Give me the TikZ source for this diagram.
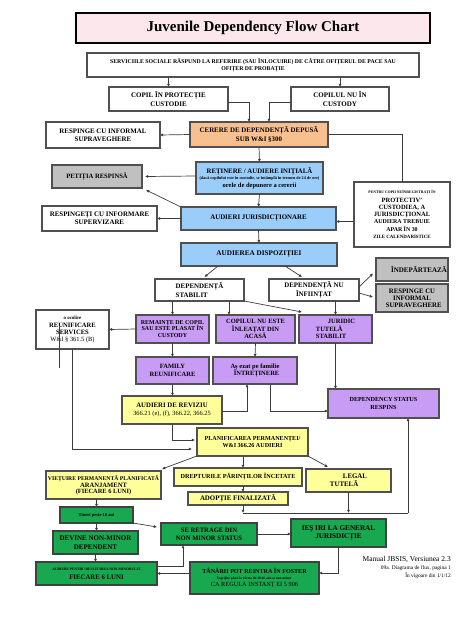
\documentclass[tikz,border=0pt]{standalone}
\usepackage{fontspec}
\setmainfont{Liberation Serif}
\usetikzlibrary{arrows.meta,calc}
\definecolor{cpink}{RGB}{252,232,236}
\definecolor{corange}{RGB}{249,192,143}
\definecolor{cblue}{RGB}{155,205,250}
\definecolor{cgray}{RGB}{192,192,192}
\definecolor{cpurple}{RGB}{200,155,245}
\definecolor{cyellow}{RGB}{255,255,153}
\definecolor{cgreen}{RGB}{24,168,80}
\definecolor{cborder}{RGB}{80,80,80}
\definecolor{cline}{RGB}{60,60,60}
\newcommand\fs[1]{\fontsize{#1}{\fpeval{#1*1.2}}\selectfont}
\newcommand\mkbox[7]{\node[#6,anchor=north west,minimum width=#4pt,minimum height=#5pt] (#1) at (#2,#3) {#7};}
\tikzset{
  x=1pt,y=-1pt,
  bx/.style={draw=cborder,line width=1.8pt,inner sep=1pt,align=center,font=\bfseries,outer sep=0pt},
  fz/.style={font=\bfseries\fs{#1}},
  wbox/.style={bx,fill=white},
  obox/.style={bx,fill=corange},
  bbox/.style={bx,fill=cblue},
  gbox/.style={bx,fill=cgray},
  pbox/.style={bx,fill=cpurple},
  ybox/.style={bx,fill=cyellow},
  grbox/.style={bx,fill=cgreen,draw=black!75},
  arr/.style={draw=cline,line width=0.7pt,-{Latex[length=3.2pt,width=3.2pt]}},
  ln/.style={draw=cline,line width=0.7pt},
}
\begin{document}
\begin{tikzpicture}
\useasboundingbox (0,0) rectangle (474,632);
\fill[white] (0,0) rectangle (474,632);
% title
\mkbox{title}{76}{13}{354}{30}{bx,fill=cpink,draw=black,line width=2.4pt,fz=15}{Juvenile Dependency Flow Chart}
\mkbox{svc}{87}{53}{332}{24}{wbox,fz=5.8}{SERVICIILE SOCIALE RĂSPUND LA REFERIRE (SAU ÎNLOCUIRE) DE CĂTRE OFIȚERUL DE PACE SAU\\OFIȚER DE PROBAȚIE}
\mkbox{cp}{109}{87}{119}{24}{wbox,fz=7}{COPIL ÎN PROTECȚIE\\CUSTODIE}
\mkbox{cn}{291}{87}{98}{24}{wbox,fz=7}{COPILUL NU ÎN\\CUSTODY}
\mkbox{cer}{190}{122}{138}{25}{obox,fz=6.9}{CERERE DE DEPENDENȚĂ DEPUSĂ\\SUB W\&I §300}
\mkbox{rs1}{46}{122}{114}{26}{wbox,fz=6.9}{RESPINGE CU INFORMAL\\SUPRAVEGHERE}
\mkbox{ret}{196}{162}{127}{32}{bbox,fz=6.8}{REȚINERE / AUDIERE INIȚIALĂ\\[-1.5pt]\fs{4.2}(dacă copilului este în custodie, se întâmplă în termen de 24 de ore)\\[-0.5pt]\fs{6.5}orele de depunere a cererii}
\mkbox{pet}{52}{165}{90}{23}{gbox,fz=6.6}{PETIȚIA RESPINSĂ}
\mkbox{aj}{181}{207}{155}{23}{bbox,fz=6.9}{AUDIERI JURISDICȚIONARE}
\mkbox{rsp}{42}{206}{115}{25}{wbox,fz=6.9}{RESPINGEȚI CU INFORMARE\\SUPERVIZARE}
\mkbox{pc}{354}{182}{96}{65}{wbox,fz=6.5}{\fs{3.8}PENTRU COPII NEÎNREGISTRAȚI ÎN\\[0.5pt]PROTECTIV'\\[-0.5pt]CUSTODIEA, A\\[-0.5pt]JURISDICȚIONAL\\[-0.5pt]\fs{5.9}AUDIERA TREBUIE\\[-0.5pt]\fs{5.9}APAR ÎN 30\\[-0.5pt]\fs{4.9}ZILE CALENDARISTICE}
\mkbox{ad}{181}{243}{156}{23}{bbox,fz=7.2}{AUDIEREA DISPOZIȚIEI}
\mkbox{ds}{155}{279}{89}{22}{wbox,align=left,fz=6.9}{DEPENDENȚĂ\\STABILIT}
\mkbox{dn}{269}{279}{90}{22}{wbox,fz=6.9}{DEPENDENȚĂ NU\\ÎNFIINȚAT}
\mkbox{ind}{376}{258}{72}{23}{gbox,fz=7}{\qquad ÎNDEPĂRTEAZĂ}
\mkbox{rs2}{376}{284}{72}{28}{gbox,fz=6.8}{RESPINGE CU\\[-1pt]INFORMAL\\[-1pt]\ \ SUPRAVEGHERE}
\mkbox{rem}{136}{315}{73}{28}{pbox,fz=6}{REMAINȚE DE COPIL\\[-0.5pt]SAU ESTE PLASAT ÎN\\[-0.5pt]CUSTODY}
\mkbox{cne}{216}{315}{79}{28}{pbox,fz=6.5}{COPILUL NU ESTE\\[-0.5pt]ÎNLEAȚAT DIN\\[-0.5pt]ACASĂ}
\mkbox{jt}{299}{315}{73}{28}{pbox,align=left,fz=6.5}{\hspace{12pt}JURIDIC\\[-0.5pt]TUTELĂ\\[-0.5pt]STABILIT}
\mkbox{oc}{36}{310}{73}{39}{wbox,fz=6.6}{\fs{4.9}o ocolire\\[0pt]REUNIFICARE\\[-0.5pt]SERVICES\\[-0.5pt]\mdseries\fs{6.4}W\&I § 361.5 (B)}
\mkbox{fam}{136}{357}{73}{27}{pbox,fz=6.5}{FAMILY\\REUNIFICARE}
\mkbox{az}{213}{357}{84}{27}{pbox,align=left,fz=6.5}{Aș ezat pe familie\\\ \ ÎNTREȚINERE}
\mkbox{dst}{328}{389}{111}{29}{pbox,fz=6.2}{DEPENDENCY STATUS\\RESPINS}
\mkbox{ar}{122}{396}{100}{28}{ybox,fz=6.8}{AUDIERI DE REVIZIU\\\mdseries\fs{6.4}366.21 (e), (f), 366.22, 366.25}
\mkbox{pp}{197}{428}{111}{28}{ybox,fz=6.1}{PLANIFICAREA PERMANENȚEI/\\W\&I 366.26 AUDIERI}
\mkbox{vp}{46}{471}{115}{28}{ybox,fz=6.6}{\fs{5.7}VIEȚUIRE PERMANENTĂ PLANIFICATĂ\\[-1pt]ARANJAMENT\\[-2pt]\fs{6.4}(FIECARE 6 LUNI)}
\mkbox{dr}{174}{468}{128}{18}{ybox,fz=6.2}{DREPTURILE PĂRINȚILOR ÎNCETATE}
\mkbox{adf}{188}{492}{100}{13}{ybox,fz=6.9}{ADOPȚIE FINALIZATĂ}
\mkbox{lt}{306}{469}{85}{23}{ybox,align=left,fz=6.9}{\hspace{13pt}LEGAL\\TUTELĂ}
\mkbox{tn}{60}{507}{73}{16}{grbox,fz=4.5}{Tineri peste 18 ani}
\mkbox{sr}{161}{523}{96}{22}{grbox,fz=6.6}{SE RETRAGE DIN\\NON MINOR STATUS}
\mkbox{ies}{291}{519}{95}{28}{grbox,fz=7.2}{IEȘ IRI LA GENERAL\\JURISDICȚIE}
\mkbox{dv}{53}{531}{85}{23}{grbox,fz=7}{DEVINE NON-MINOR\\DEPENDENT}
\mkbox{au}{36}{562}{121}{23}{grbox,fz=6.8}{\fs{3.6}AUDIERE PENTRU REVIZUIREA NON-MINORULUI\\[1pt]FIECARE 6 LUNI}
\mkbox{tr}{190}{562}{129}{32}{grbox,fz=6.1}{TÂNĂRII POT REINTRA ÎN FOSTER\\[-1pt]\fs{3.5}Îngrijire până la vârsta de 20 de ani ca non-minor\hspace{40pt}\\[0pt]\mdseries\fs{6.3}CA REGULA INSTANȚ EI 5 906}
% footer
\node[anchor=north east,align=right,inner sep=0pt,font=\fs{7.5}] (foot) at (451,556) {Manual JBSIS, Versiunea 2.3\\[-1pt]\fs{5.4}09a. Diagrama de flux, pagina 1\\[-1pt]\fs{5.4}În vigoare din 1/1/12};
% connectors
\draw[arr] (svc.south -| cp) -- (cp.north);
\draw[arr] (svc.south -| cn) -- (cn.north);
\draw[arr] ($(cp.east)+(0,3)$) -| ([xshift=-10pt]cer.north);
\draw[arr] ($(cn.west)+(0,3)$) -| ([xshift=10pt]cer.north);
\draw[arr] (cer.west) -- (rs1.east);
\draw[ln] (cer.east) -| (pc.north);
\draw[arr] (cer.south) -- (ret.north);
\draw[arr] ($(ret.west)+(0,-2)$) -- ($(pet.east)+(3,0)$);
\draw[arr] (aj.north west) -- ($(pet.south east)+(4,2)$);
\draw[arr] (ret.south) -- (aj.north);
\draw[arr] (aj.west) -- (aj.west -| rsp.east);
\draw[arr] ($(aj.east -| pc.west)+(0,3)$) -- ($(aj.east)+(0,3)$);
\draw[arr] (aj.south) -- (ad.north);
\draw[arr] ($(ad.south)+(-41,0)$) -- ($(ds.north)+(5,-2)$);
\draw[arr] ($(ad.south)+(26,0)$) -- ($(dn.north)+(-12,-2)$);
\draw[arr] ($(dn.east)+(0,-3)$) -- ($(ind.west)+(-3,4)$);
\draw[arr] ($(dn.east)+(0,3)$) -- ($(rs2.west)+(-3,-1)$);
\draw[arr] (ds.south -| rem.north) -- (rem.north);
\coordinate (cneTop) at ($(cne.north west)+(13,0)$);
\draw[arr] (ds.south -| cneTop) -- (cneTop);
\draw[arr] (ds.south east) -- ($(jt.north west)+(3,-3)$);
\draw[arr] (dn.south -| jt.north) -- (jt.north);
\draw[arr] (rem.west) -- (oc.east);
\coordinate (s1) at (59,327);
\coordinate (s2) at (59,368);
\draw[ln] (s1) -- (s2);
\draw[arr] (rem.south) -- (fam.north);
\draw[arr] (cne.south) -- (az.north);
\draw[arr] (jt.south) -- (jt.south |- dst.north);
\draw[arr] (fam.south) -- (fam.south |- ar.north);
\coordinate (azIn) at ($(az.south west)+(34,0)$);
\draw[arr] ($(ar.east)+(0,1)$) -| (azIn);
\coordinate (azOut) at ($(az.south west)+(57,0)$);
\draw[arr] (azOut) |- ($(dst.west)+(0,7.5)$);
\draw[arr] (ar.south) |- ($(pp.west)+(-2,-2)$);
\coordinate (ocOut) at ($(oc.south west)+(36,0)$);
\draw[arr] (ocOut) |- ($(pp.west)+(-5,7)$);
% permanency plan outputs
\draw[arr] (pp.south west) -- ($(vp.north east)+(1,-2)$);
\coordinate (colA) at ($(pp.south west)+(46,0)$);
\draw[arr] (colA) -- (colA |- dr.north);
\draw[arr] (colA |- dr.south) -- (colA |- adf.north);
\draw[arr] (pp.south east) -- ($(lt.north west)+(22,-2)$);
\coordinate (jL) at (243,513);
\coordinate (jR) at (408,513);
\draw[arr] (colA |- adf.south) -- (jL);
\draw[arr] (lt.south) -- (lt.south |- jR);
\draw[ln] (jL) -- (jR);
\draw[arr] (jR) -- (jR |- dst.south);
% youth
\draw[arr] (tn.north |- vp.south) -- (tn.north);
\draw[arr] (tn.south east) -- ($(sr.west)+(-4,-7)$);
\draw[arr] (tn.south) -- (tn.south |- dv.north);
\draw[arr] (sr.east) -- (sr.east -| ies.west);
\draw[arr] (dv.south) -- (dv.south |- au.north);
\coordinate (srIn) at ($(sr.south west)+(22,0)$);
\draw[arr] ($(au.east)+(0,-7)$) -| (srIn);
\draw[arr] (tr.west |- au.east) -- (au.east);
\draw[arr] (ies.south) |- ($(tr.east)+(0,-5)$);
\end{tikzpicture}
\end{document}
